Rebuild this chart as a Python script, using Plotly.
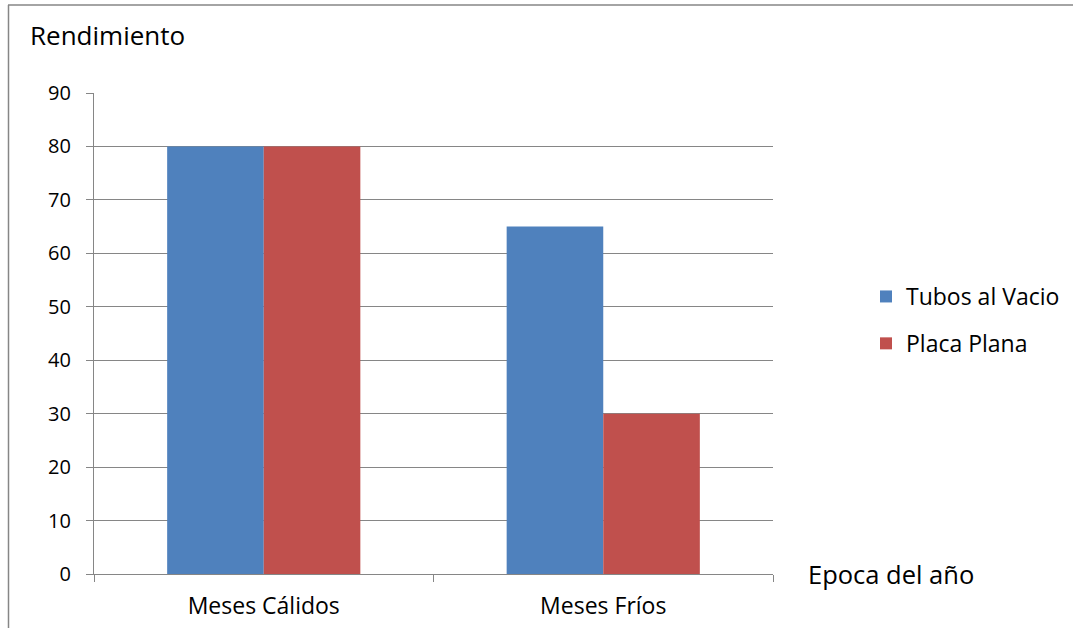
import plotly.graph_objects as go

categorias = ["Meses Cálidos", "Meses Fríos"]
tubos_al_vacio = [80, 65]
placa_plana = [80, 30]
y_ticks = [0, 10, 20, 30, 40, 50, 60, 70, 80, 90]

FONT = "Open Sans"
GRIS = "#868686"

fig = go.Figure()
fig.add_trace(go.Bar(name="Tubos al Vacio", x=categorias, y=tubos_al_vacio,
                     marker=dict(color="#4F81BD", line=dict(width=0)),
                     legendgroup="a"))
fig.add_trace(go.Bar(name="Placa Plana", x=categorias, y=placa_plana,
                     marker=dict(color="#C0504D", line=dict(width=0)),
                     legendgroup="b"))

fig.update_layout(
    width=1073, height=628,
    margin=dict(l=94, r=300, t=93, b=54, autoexpand=False),
    paper_bgcolor="white", plot_bgcolor="white",
    barmode="group", bargap=0.431, bargroupgap=0,
    font=dict(family=FONT, color="black", size=20),
    showlegend=True,
    legend=dict(xref="container", yref="container",
                x=866 / 1073, y=(628 - 320) / 628, xanchor="left",
                yanchor="middle",
                font=dict(size=23, family=FONT), traceorder="grouped",
                tracegroupgap=14, itemwidth=30, bgcolor="rgba(0,0,0,0)"),
)

fig.update_yaxes(range=[0, 90], tickvals=y_ticks, showgrid=True, gridcolor=GRIS,
                 gridwidth=1.3, showline=True, linecolor=GRIS, linewidth=1.3,
                 ticks="outside", ticklen=7, tickcolor=GRIS, tickwidth=1.3,
                 zeroline=False, ticklabelstandoff=11, automargin=False,
                 tickfont=dict(size=20, family=FONT))
fig.update_xaxes(showline=True, linecolor=GRIS, linewidth=1.3, ticks="outside",
                 tickson="boundaries", ticklen=7, tickcolor=GRIS, tickwidth=1.3,
                 showgrid=False, tickfont=dict(size=23, family=FONT),
                 ticklabelstandoff=11, automargin=False)

# axis titles placed like chart labels
fig.add_annotation(text="Rendimiento", xref="paper", yref="paper",
                   x=(28 - 94) / 679, y=(574 - 35) / 481, xanchor="left",
                   yanchor="middle", showarrow=False,
                   font=dict(size=26, family=FONT))
fig.add_annotation(text="Epoca del año", xref="paper", yref="paper",
                   x=(806 - 94) / 679, y=0, xanchor="left", yanchor="middle",
                   showarrow=False, font=dict(size=25.5, family=FONT))

# chart frame
fig.add_shape(type="line", xref="paper", yref="paper",
              x0=(8 - 94) / 679, x1=(1073 - 94) / 679,
              y0=(574 - 5) / 481, y1=(574 - 5) / 481,
              line=dict(color=GRIS, width=1.5))
fig.add_shape(type="line", xref="paper", yref="paper",
              x0=(8.5 - 94) / 679, x1=(8.5 - 94) / 679,
              y0=(574 - 5) / 481, y1=(574 - 640) / 481,
              line=dict(color=GRIS, width=1.5))

fig.write_html("out.html")
